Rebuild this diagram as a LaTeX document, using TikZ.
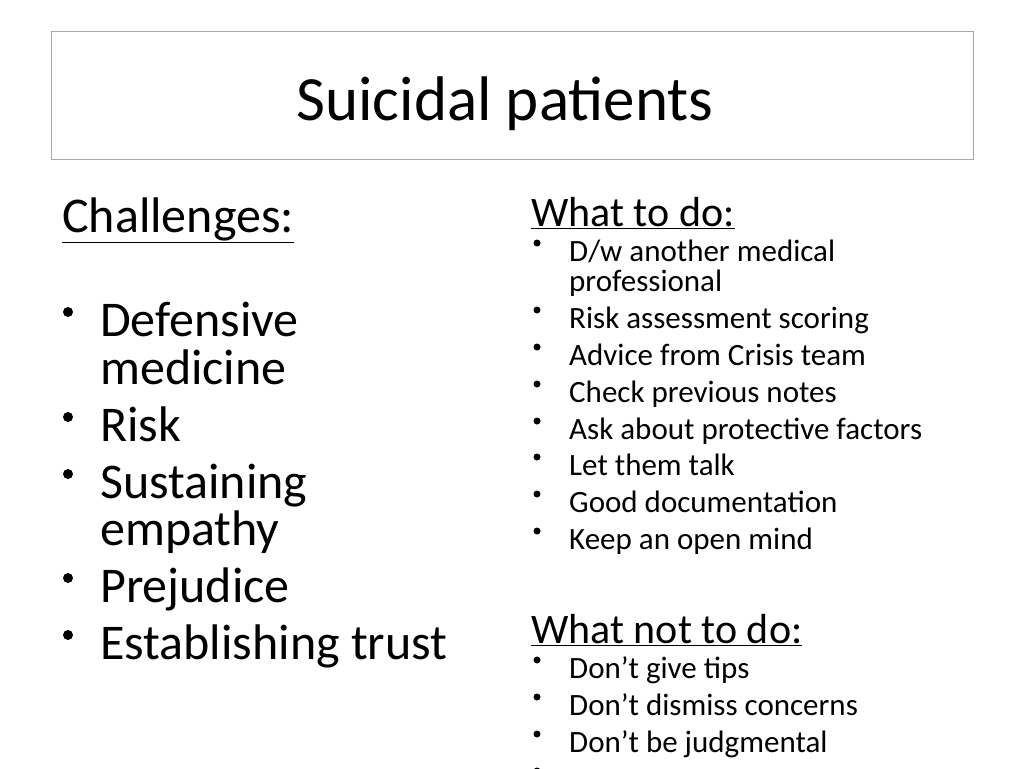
\documentclass[tikz,border=0pt]{standalone}
\usepackage{fontspec}
\setmainfont{Carlito}
\definecolor{boxblue}{HTML}{8FAADC}
\begin{document}
\begin{tikzpicture}[x=1pt,y=-1pt,
  big/.style={anchor=base west,font=\fontsize{50}{58}\selectfont,inner sep=0},
  sm/.style={anchor=base west,font=\fontsize{31}{36}\selectfont,inner sep=0},
  hd/.style={anchor=base west,font=\fontsize{42}{48}\selectfont,inner sep=0},
  bb/.style={circle,fill=black,inner sep=0,minimum size=10},
  sb/.style={circle,fill=black,inner sep=0,minimum size=7}]
\useasboundingbox (0,0) rectangle (1024,768);
\fill[white] (0,0) rectangle (1024,768);
\node[draw=boxblue,line width=1pt,minimum width=922,minimum height=128,anchor=north west,inner sep=0] (box) at (51,31) {};
\node[anchor=base,font=\fontsize{63}{70}\selectfont,inner sep=0] (title) at (505,120) {Suicidal patients};
\node[big] (ch) at (62,232) {\underline{Challenges:}};
\foreach \t/\y [count=\i] in {Defensive/336,medicine/384,Risk/441,Sustaining/498,empathy/545,Prejudice/602,Establishing trust/659}
  \node[big] (c\i) at (100,\y) {\t};
\foreach \y [count=\i] in {336,441,498,602,659}
  \node[bb] (cb\i) at (68,\y-24) {};
\node[hd] (wh) at (531,226) {\underline{What to do:}};
\foreach \t/\y [count=\i] in {{D/w another medical}/261,professional/291,Risk assessment scoring/328,Advice from Crisis team/365,Check previous notes/402,Ask about protective factors/439,Let them talk/475,Good documentation/512,Keep an open mind/549}
  \node[sm] (t\i) at (569,\y) {\t};
\foreach \y [count=\i] in {261,328,365,402,439,475,512,549}
  \node[sm] (tb\i) at (537,\y-18) {};
\foreach \y [count=\i] in {261,328,365,402,439,475,512,549}
  \fill (537,\y-18) circle (3.5);
\node[hd] (nh) at (531,643) {\underline{What not to do:}};
\foreach \t/\y [count=\i] in {Don’t give tips/678,Don’t dismiss concerns/715,Don’t be judgmental/752}
  \node[sm] (n\i) at (569,\y) {\t};
\foreach \y [count=\i] in {678,715,752,789}
  \fill (537,\y-18) circle (3.5);
\end{tikzpicture}
\end{document}
